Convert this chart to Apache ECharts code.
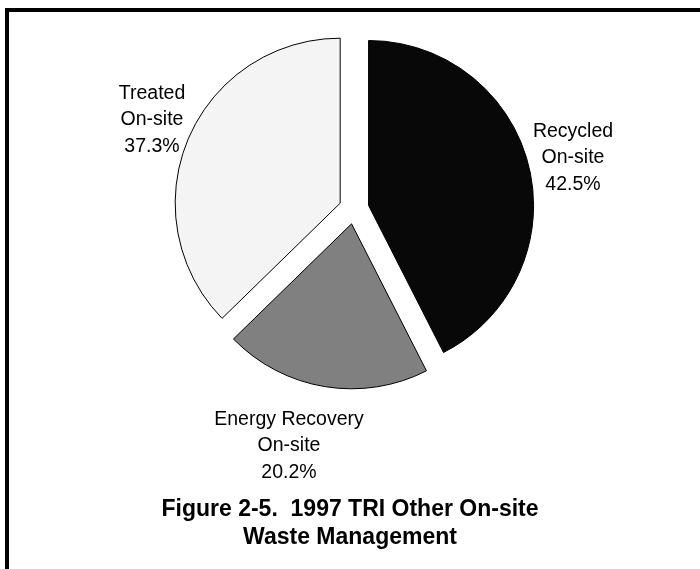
<!DOCTYPE html>
<html>
<head>
<meta charset="utf-8">
<script src="https://cdn.jsdelivr.net/npm/echarts@6/dist/echarts.min.js"></script>
<style>
html,body{margin:0;padding:0;background:#fff;}
#chart{width:700px;height:569px;}
</style>
</head>
<body>
<div id="chart"></div>
<script>
var categories = ['Recycled\nOn-site', 'Energy Recovery\nOn-site', 'Treated\nOn-site'];
var shares = [42.5, 20.2, 37.3];
var sliceColors = ['#080808', '#808080', '#f4f4f4'];
var labelPos = [[573, 158], [289, 446], [152, 120]];
var titleLines = ['Figure 2-5.  1997 TRI Other On-site', 'Waste Management'];

var FONT = 'Liberation Sans, Arial, sans-serif';
var chart = echarts.init(document.getElementById('chart'), null, {renderer: 'canvas'});
var data = categories.map(function (c, i) {
  return {name: c, value: shares[i], selected: true, itemStyle: {color: sliceColors[i]}};
});
var graphics = [
  {type: 'rect', shape: {x: 5, y: 8, width: 695, height: 4}, style: {fill: '#000'}},
  {type: 'rect', shape: {x: 5, y: 8, width: 4, height: 561}, style: {fill: '#000'}}
];
categories.forEach(function (c, i) {
  graphics.push({
    type: 'text',
    x: labelPos[i][0],
    y: labelPos[i][1],
    style: {
      text: c + '\n' + shares[i].toFixed(1) + '%',
      fill: '#000',
      font: '19.5px ' + FONT,
      lineHeight: 26.5,
      align: 'center',
      verticalAlign: 'middle'
    }
  });
});
chart.setOption({
  animation: false,
  backgroundColor: '#ffffff',
  title: {
    text: titleLines.join('\n'),
    left: 'center',
    top: 491,
    textStyle: {fontFamily: FONT, fontWeight: 'bold', fontSize: 23, lineHeight: 28, color: '#000'}
  },
  graphic: graphics,
  series: [{
    type: 'pie',
    center: [354, 209],
    radius: [0, 165],
    startAngle: 90,
    clockwise: true,
    selectedMode: 'multiple',
    selectedOffset: 15,
    emphasis: {disabled: true},
    itemStyle: {borderColor: '#000', borderWidth: 1},
    label: {show: false},
    labelLine: {show: false},
    data: data
  }]
});
</script>
</body>
</html>
